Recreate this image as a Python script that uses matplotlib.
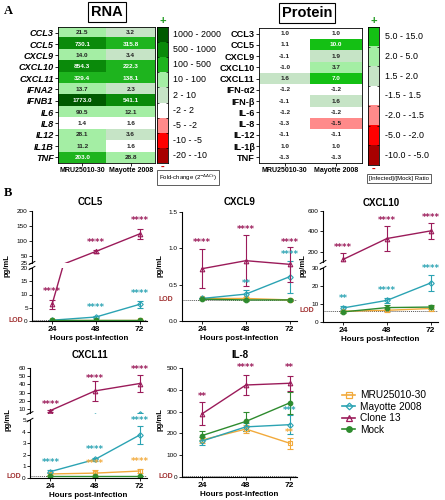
import numpy as np
import matplotlib
matplotlib.use("Agg")
import matplotlib.pyplot as plt
import matplotlib.ticker as mticker
from matplotlib.colors import ListedColormap, BoundaryNorm
from matplotlib.lines import Line2D

plt.rcParams['font.family'] = ['Liberation Sans', 'DejaVu Sans']

# ---------------- data: panel A ----------------
rna_genes = ['CCL3', 'CCL5', 'CXCL9', 'CXCL10', 'CXCL11', 'IFNA2', 'IFNB1', 'IL6', 'IL8', 'IL12', 'IL1B', 'TNF']
rna_mru = [21.5, 730.1, 14.0, 854.3, 329.4, 13.7, 1773.0, 90.5, 1.4, 28.1, 11.2, 203.0]
rna_may = [3.2, 315.8, 3.4, 222.3, 138.1, 2.3, 541.1, 12.1, 1.6, 3.6, 1.6, 28.8]
rna_bounds = [-20, -10, -5, -2, 2, 10, 100, 500, 1000, 2000]
rna_bin_labels = ['-20 - -10', '-10 - -5', '-5 - -2', '-2 - 2', '2 - 10', '10 - 100', '100 - 500', '500 - 1000', '1000 - 2000']
rna_colors = ['#a80000', '#ff0000', '#ff8a8a', '#ffffff', '#c6e4c6', '#a4eea4', '#1eb41e', '#0a8a0a', '#005a00']

prot_names = ['CCL3', 'CCL5', 'CXCL9', 'CXCL10', 'CXCL11', 'IFN-α2', 'IFN-β', 'IL-6', 'IL-8', 'IL-12', 'IL-1β', 'TNF']
prot_mru = [1.0, 1.1, -1.1, -1.0, 1.6, -1.2, -1.1, -1.2, -1.3, -1.1, 1.0, -1.3]
prot_may = [1.0, 10.0, 1.9, 3.7, 7.0, -1.2, 1.6, -1.2, -1.52, -1.1, 1.0, -1.3]
prot_bounds = [-10, -5, -2, -1.5, 1.5, 2, 5, 15]
prot_bin_labels = ['-10.0 - -5.0', '-5.0 - -2.0', '-2.0 - -1.5', '-1.5 - 1.5', '1.5 - 2.0', '2.0 - 5.0', '5.0 - 15.0']
prot_colors = ['#a80000', '#ff0000', '#ff8a8a', '#ffffff', '#c6e4c6', '#a4eea4', '#14c014']
strains = ['MRU25010-30', 'Mayotte 2008']

# ---------------- data: panel B ----------------
hours = [24, 48, 72]
series = ['MRU25010-30', 'Mayotte 2008', 'Clone 13', 'Mock']
s_colors = {'MRU25010-30': '#f2aa3c', 'Mayotte 2008': '#2ba3b3', 'Clone 13': '#9b1b5a', 'Mock': '#2e8b2e'}
s_markers = {'MRU25010-30': 's', 'Mayotte 2008': 'D', 'Clone 13': '^', 'Mock': 'o'}
s_filled = {'MRU25010-30': False, 'Mayotte 2008': False, 'Clone 13': False, 'Mock': True}

ccl5_mean = {'MRU25010-30': [0.3, 0.3, 0.3], 'Mayotte 2008': [0.3, 1.5, 6.3],
             'Clone 13': [6.3, 64, 123], 'Mock': [0.3, 0.3, 0.3]}
ccl5_err = {'MRU25010-30': [0.05, 0.05, 0.05], 'Mayotte 2008': [0.1, 0.5, 1.3],
            'Clone 13': [1.8, 5, 18], 'Mock': [0.05, 0.05, 0.05]}
ccl5_stars = [('Clone 13', 24, 11.3, '****'), ('Clone 13', 48, 95, '****'), ('Clone 13', 72, 167, '****'),
              ('Mayotte 2008', 48, 5.0, '****'), ('Mayotte 2008', 72, 10.4, '****')]

cxcl9_mean = {'MRU25010-30': [0.31, 0.31, 0.29], 'Mayotte 2008': [0.31, 0.37, 0.61],
              'Clone 13': [0.72, 0.83, 0.78], 'Mock': [0.30, 0.29, 0.29]}
cxcl9_err = {'MRU25010-30': [0.01, 0.02, 0.01], 'Mayotte 2008': [0.01, 0.05, 0.22],
             'Clone 13': [0.27, 0.35, 0.24], 'Mock': [0.01, 0.01, 0.01]}
cxcl9_stars = [('Clone 13', 24, 1.08, '****'), ('Clone 13', 48, 1.26, '****'), ('Clone 13', 72, 1.08, '****'),
               ('Mayotte 2008', 48, 0.52, '**'), ('Mayotte 2008', 72, 0.92, '****')]

cxcl10_mean = {'MRU25010-30': [6.0, 6.5, 7.5], 'Mayotte 2008': [7.8, 12.0, 21.7],
               'Clone 13': [125, 330, 405], 'Mock': [5.6, 8.0, 8.3]}
cxcl10_err = {'MRU25010-30': [0.3, 0.8, 1.5], 'Mayotte 2008': [1.0, 1.5, 4.2],
              'Clone 13': [60, 120, 80], 'Mock': [0.5, 1.2, 1.0]}
cxcl10_stars = [('Clone 13', 24, 245, '****'), ('Clone 13', 48, 510, '****'), ('Clone 13', 72, 540, '****'),
                ('Mayotte 2008', 24, 13, '**'), ('Mayotte 2008', 48, 17.5, '****'), ('Mayotte 2008', 72, 30, '****')]

cxcl11_mean = {'MRU25010-30': [0.35, 0.42, 0.6], 'Mayotte 2008': [0.55, 1.6, 3.7],
               'Clone 13': [8.0, 32, 41], 'Mock': [0.15, 0.15, 0.15]}
cxcl11_err = {'MRU25010-30': [0.08, 0.3, 0.2], 'Mayotte 2008': [0.1, 0.12, 0.8],
              'Clone 13': [1.2, 12, 10.5], 'Mock': [0.02, 0.02, 0.02]}
cxcl11_stars = [('Clone 13', 24, 15, '****'), ('Clone 13', 48, 47, '****'), ('Clone 13', 72, 58, '****'),
                ('Mayotte 2008', 24, 1.35, '****'), ('Mayotte 2008', 48, 2.45, '****'), ('Mayotte 2008', 72, 5.0, '****'),
                ('MRU25010-30', 48, 1.25, '****'), ('MRU25010-30', 72, 1.4, '****')]

il8_mean = {'MRU25010-30': [170, 220, 155], 'Mayotte 2008': [165, 230, 240],
            'Clone 13': [290, 422, 430], 'Mock': [190, 255, 340]}
il8_err = {'MRU25010-30': [15, 18, 25], 'Mayotte 2008': [20, 20, 45],
           'Clone 13': [52, 47, 35], 'Mock': [22, 45, 52]}
il8_stars = [('Clone 13', 24, 370, '**'), ('Clone 13', 48, 503, '****'), ('Clone 13', 72, 503, '**'),
             ('Mayotte 2008', 72, 305, '***'), ('MRU25010-30', 72, 205, '**')]

W, H = 445, 500
fig = plt.figure(figsize=(W / 100, H / 100), dpi=100)


def add_ax(l, t, r, b):
    return fig.add_axes([l / W, 1 - b / H, (r - l) / W, (b - t) / H])


def fx(x):
    return x / W


def fy(y):
    return 1 - y / H


# ---------------- panel A ----------------
def heatmap(box, names, v1, v2, bounds, colors, italic, white_thr, cbox, bin_labels, lab_x, keybox, keytext):
    ax = add_ax(*box)
    cmap = ListedColormap(colors)
    norm = BoundaryNorm(bounds, cmap.N)
    data = np.array([v1, v2]).T
    ax.imshow(data, cmap=cmap, norm=norm, aspect='auto', interpolation='nearest')
    for i in range(len(names)):
        for j in range(2):
            v = data[i, j]
            ax.text(j, i, f"{v:.1f}", ha='center', va='center', fontsize=4.6, fontweight='bold',
                    color='white' if v >= white_thr else '#222222')
    ax.set_yticks(range(len(names)))
    ax.set_yticklabels(names, fontsize=6.6, fontweight='bold', style='italic' if italic else 'normal')
    ax.set_xticks([0, 1])
    ax.set_xticklabels(strains, fontsize=5.0, fontweight='bold')
    ax.tick_params(length=2, width=0.6, pad=1)
    for s in ax.spines.values():
        s.set_linewidth(0.6)
    # colour key
    cax = add_ax(*cbox)
    n = len(colors)
    cax.imshow(np.arange(n)[::-1].reshape(-1, 1), cmap=ListedColormap(colors), aspect='auto',
               interpolation='nearest', vmin=-0.5, vmax=n - 0.5)
    cax.set_xticks([])
    cax.set_yticks([])
    cax.set_yticks(np.arange(n - 1) + 0.5, minor=True)
    cax.tick_params(which='minor', length=1.5, width=0.5, direction='in', left=True, right=True)
    for s in cax.spines.values():
        s.set_linewidth(0.6)
    cl, ct, cr, cb = cbox
    cell_h = (cb - ct) / n
    for k, lab in enumerate(bin_labels[::-1]):
        fig.text(fx(lab_x), fy(ct + cell_h * (k + 0.5)), lab, fontsize=6.4, va='center', ha='left')
    cxm = (cl + cr) / 2
    fig.text(fx(cxm), fy(ct - 6), '+', color='#1e9a1e', fontsize=8, fontweight='bold', ha='center', va='center')
    fig.text(fx(cxm), fy(cb + 4), '-', color='#cc0000', fontsize=8, fontweight='bold', ha='center', va='center')
    kl, kt = keybox
    fig.text(fx(kl), fy(kt), keytext, fontsize=4.3, ha='left', va='center',
             bbox=dict(boxstyle='square,pad=0.35', fc='white', ec='#444444', lw=0.6))
    return ax


heatmap((58, 27, 155, 163), rna_genes, rna_mru, rna_may, rna_bounds, rna_colors, True, 100,
        (157, 27, 168, 163), rna_bin_labels, 173, (159, 177.5), r'Fold-change (2$^{-\Delta\Delta Ct}$)')
heatmap((259, 28, 362, 163), prot_names, prot_mru, prot_may, prot_bounds, prot_colors, False, 5,
        (368, 27, 379, 165), prot_bin_labels, 385, (369, 178.5), '[Infected]/[Mock] Ratio')

fig.text(fx(107), fy(12), 'RNA', fontsize=10.5, fontweight='bold', ha='center', va='center',
         bbox=dict(boxstyle='square,pad=0.2', fc='white', ec='black', lw=0.8))
fig.text(fx(307), fy(13), 'Protein', fontsize=10.5, fontweight='bold', ha='center', va='center',
         bbox=dict(boxstyle='square,pad=0.2', fc='white', ec='black', lw=0.8))
fig.text(fx(4), fy(11), 'A', fontsize=9, fontweight='bold', family='Liberation Serif', va='center')
fig.text(fx(4), fy(193), 'B', fontsize=9, fontweight='bold', family='Liberation Serif', va='center')

# ---------------- panel B ----------------
LODC = '#a03030'


def draw_series(ax, mean, err):
    for s in series:
        c = s_colors[s]
        ax.errorbar(hours, mean[s], yerr=err[s], color=c, marker=s_markers[s],
                    mfc=c if s_filled[s] else 'none', mec=c, ms=3.3 if s_markers[s] != 'D' else 2.8,
                    mew=0.8, lw=1.0, elinewidth=0.8, capsize=2, capthick=0.8,
                    zorder=3 if s == 'Clone 13' else 2)


def style(ax, bottom=True):
    for s in ['top', 'right']:
        ax.spines[s].set_visible(False)
    ax.spines['left'].set_linewidth(0.8)
    ax.spines['bottom'].set_linewidth(0.8)
    ax.tick_params(labelsize=4.6, length=2, width=0.6, pad=1)
    ax.set_xlim(13, 76)
    ax.set_facecolor('none')
    if bottom:
        ax.set_xticks(hours)
        ax.tick_params(axis='x', labelsize=6, pad=1.5)
        for t in ax.get_xticklabels():
            t.set_fontweight('bold')
        ax.set_xlabel('Hours post-infection', fontsize=5.8, labelpad=1.5, fontweight='bold')
    else:
        ax.spines['bottom'].set_visible(False)
        ax.set_xticks([])


def lod(ax, val):
    ax.axhline(val, color='#555555', ls=(0, (1, 1)), lw=0.7, zorder=1)
    ax.annotate('LOD', xy=(0, val), xycoords=('axes fraction', 'data'), xytext=(-6.5, 0),
                textcoords='offset points', ha='right', va='center', fontsize=5, color=LODC,
                fontweight='bold')


def stars(ax_list, star_list):
    for s, x, y, txt in star_list:
        for ax in ax_list:
            lo, hi = ax.get_ylim()
            if lo <= y <= hi * 1.06:
                ax.text(x, y, txt, color=s_colors[s], fontsize=6.2, fontweight='bold',
                        family='DejaVu Sans', ha='center', va='center', clip_on=False)
                break


def breakmarks(ax_top, ax_bot):
    for ax, yy in [(ax_top, 0.0), (ax_bot, 1.0)]:
        ax.plot([-0.025, 0.025], [yy - 0.03, yy + 0.03], transform=ax.transAxes,
                color='black', lw=0.7, clip_on=False)


def broken_panel(l, r, top_box, bot_box, mean, err, top_lim, top_ticks, bot_lim, bot_ticks, lodv,
                 star_list, title, title_xy, ylab_xy):
    axt = add_ax(l, top_box[0], r, top_box[1])
    axb = add_ax(l, bot_box[0], r, bot_box[1])
    draw_series(axt, mean, err)
    draw_series(axb, mean, err)
    axt.set_ylim(*top_lim)
    axb.set_ylim(*bot_lim)
    style(axt, bottom=False)
    style(axb, bottom=True)
    axt.set_yticks(top_ticks)
    axb.set_yticks(bot_ticks)
    lod(axb, lodv)
    breakmarks(axt, axb)
    stars([axb, axt], star_list)
    fig.text(fx(title_xy[0]), fy(title_xy[1]), title, fontsize=7, fontweight='bold', ha='center', va='center')
    fig.text(fx(ylab_xy[0]), fy(ylab_xy[1]), 'pg/mL', fontsize=5.5, fontweight='bold', rotation=90,
             ha='center', va='center')


def single_panel(l, r, t, b, mean, err, lim, ticks, lodv, star_list, title, title_xy, ylab_xy):
    ax = add_ax(l, t, r, b)
    draw_series(ax, mean, err)
    ax.set_ylim(*lim)
    style(ax, bottom=True)
    ax.set_yticks(ticks)
    lod(ax, lodv)
    stars([ax], star_list)
    fig.text(fx(title_xy[0]), fy(title_xy[1]), title, fontsize=7, fontweight='bold', ha='center', va='center')
    fig.text(fx(ylab_xy[0]), fy(ylab_xy[1]), 'pg/mL', fontsize=5.5, fontweight='bold', rotation=90,
             ha='center', va='center')
    return ax


broken_panel(32, 147, (211, 263), (268, 321), ccl5_mean, ccl5_err, (25, 200), [25, 50, 100, 150, 200],
             (0, 20), [0, 5, 10, 15, 20], 0.3, ccl5_stars, 'CCL5', (90, 202), (7, 266))
ax9 = single_panel(182, 297, 212, 321, cxcl9_mean, cxcl9_err, (0, 1.5), [0.0, 0.5, 1.0, 1.5], 0.29,
                   cxcl9_stars, 'CXCL9', (240, 202), (160, 266))
ax9.yaxis.set_major_formatter(mticker.FormatStrFormatter('%.1f'))
broken_panel(323, 438, (211, 262), (268, 322), cxcl10_mean, cxcl10_err, (100, 600), [200, 400, 600],
             (0, 30), [0, 10, 20, 30], 6.3, cxcl10_stars, 'CXCL10', (381, 203), (303, 266))
broken_panel(30, 147, (368, 413), (420, 478), cxcl11_mean, cxcl11_err, (5, 60), [10, 20, 30, 40, 50, 60],
             (0, 5), [0, 1, 2, 3, 4, 5], 0.13, cxcl11_stars, 'CXCL11', (90, 355), (8, 420))
single_panel(182, 297, 368, 477, il8_mean, il8_err, (0, 500), [0, 100, 200, 300, 400, 500], 3,
             il8_stars, 'IL-8', (240, 355), (160, 420))

# legend
handles = []
for s in series:
    c = s_colors[s]
    handles.append(Line2D([0], [0], color=c, marker=s_markers[s], mfc=c if s_filled[s] else 'none',
                          mec=c, ms=4 if s_markers[s] != 'D' else 3.4, mew=0.9, lw=1.2))
fig.legend(handles, series, loc='upper left', bbox_to_anchor=(fx(338), fy(386)), frameon=False,
           fontsize=7.3, handlelength=1.3, labelspacing=0.15, handletextpad=0.5, borderaxespad=0)

fig.savefig('out.png', dpi=100)
